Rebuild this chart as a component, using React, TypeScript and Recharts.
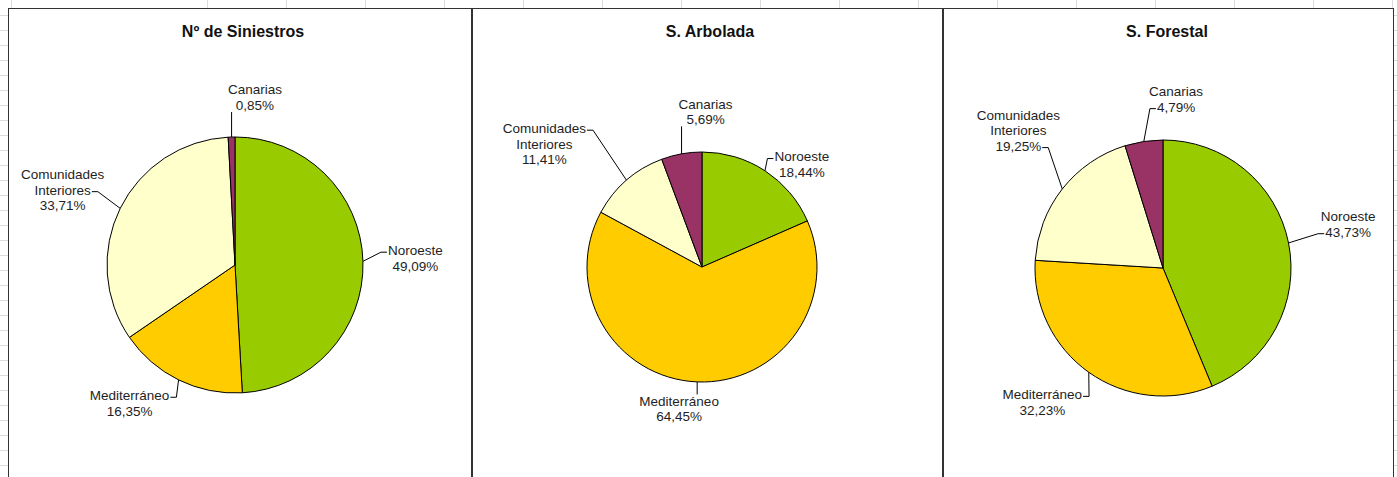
import { PieChart, Pie, Cell } from 'recharts'

const regions = ['Noroeste', 'Mediterráneo', 'Comunidades Interiores', 'Canarias']
const siniestros = [49.09, 16.35, 33.71, 0.85]
const arbolada = [18.44, 64.45, 11.41, 5.69]
const forestal = [43.73, 32.23, 19.25, 4.79]
const titles = ['Nº de Siniestros', 'S. Arbolada', 'S. Forestal']

const COLORS = ['#99CC00', '#FFCC00', '#FFFFCC', '#993366']
const FONT = "'Liberation Sans', Arial, sans-serif"
const LABEL_SIZE = 13.5
const LINE_H = 15.5
const GAP = 18

// layout of each panel; nudges = [dx, dy, line the leader hooks onto]
const panels = [
  { title: titles[0], values: siniestros, left: 8, width: 464, cx: 227, cy: 257, r: 128, titleX: 235,
    nudges: [[7, -2, 0], [-23.5, -6.5, 0], [-4, 0, 1], [24.6, -6, 1]] },
  { title: titles[1], values: arbolada, left: 472, width: 471, cx: 230, cy: 259, r: 115, titleX: 238,
    nudges: [[12, 22, 0], [-15.6, -6.4, 0], [-43, -5, 0], [32, -9, 1]] },
  { title: titles[2], values: forestal, left: 943, width: 451, cx: 220, cy: 260, r: 128, titleX: 224,
    nudges: [[15, -12, 1], [-13, 3, 0], [3, -33, 2], [39, -9, 1]] },
]

let ctx: CanvasRenderingContext2D | null = null
function textW(s: string) {
  if (!ctx) ctx = document.createElement('canvas').getContext('2d')
  if (!ctx) return s.length * 7.3
  ctx.font = `${LABEL_SIZE}px ${FONT}`
  return ctx.measureText(s).width
}

const fmt = (v: number) => v.toFixed(2).replace('.', ',') + '%'

function makeLabel(nudges: number[][]) {
  return (props: any) => {
    const { cx, cy, midAngle, outerRadius, index, name, value } = props
    const RAD = Math.PI / 180
    const ux = Math.cos(-midAngle * RAD)
    const uy = Math.sin(-midAngle * RAD)
    const px = cx + outerRadius * ux
    const py = cy + outerRadius * uy
    const lines = [...String(name).split(' '), fmt(value)]
    const widths = lines.map(textW)
    const halfW = Math.max(...widths) / 2
    const halfH = (lines.length * LINE_H) / 2
    const [dx, dy, hook] = nudges[index]
    const tx = px + ux * GAP + ux * halfW + dx
    const ty = py + uy * GAP + uy * halfH + dy
    const top = ty - halfH

    let pts: number[][]
    if (px >= tx - halfW && px <= tx + halfW) {
      const qy = uy > 0 ? top + 1 : top + lines.length * LINE_H - 1
      pts = [[px, py], [px, qy]]
    } else {
      const ly = top + (hook + 0.6) * LINE_H
      const side = tx > px ? -1 : 1
      const qx = tx + side * (widths[hook] / 2 + 1)
      pts = [[px, py], [qx + side * 6, ly], [qx, ly]]
    }

    return (
      <g key={`lbl-${index}`}>
        <polyline points={pts.map(p => p.join(',')).join(' ')} fill="none" stroke="#000" strokeWidth={1} />
        <text x={tx} textAnchor="middle" fontFamily={FONT} fontSize={LABEL_SIZE} fill="#1e1e24">
          {lines.map((l, i) => (
            <tspan key={i} x={tx} y={top + (i + 0.5) * LINE_H} dominantBaseline="central">{l}</tspan>
          ))}
        </text>
      </g>
    )
  }
}

const gridCols = Array.from({ length: 16 }, (_, i) => 207 + i * 79)
const gridRows = Array.from({ length: 31 }, (_, i) => 15 + i * 15)

export default function App() {
  return (
    <div style={{ position: 'absolute', left: 0, top: 0, width: 1397, height: 477, background: '#fff', overflow: 'hidden' }}>
      {/* spreadsheet grid peeking out around the charts */}
      {[11, ...gridCols].map(x => (
        <div key={'c' + x} style={{ position: 'absolute', left: x, top: 0, width: 1, height: 8, background: '#dcdcdc' }} />
      ))}
      {gridRows.map(y => (
        <div key={'r' + y} style={{ position: 'absolute', left: 0, top: y, width: 8, height: 1, background: '#dcdcdc' }} />
      ))}
      {gridRows.map(y => (
        <div key={'rr' + y} style={{ position: 'absolute', left: 1394, top: y, width: 3, height: 1, background: '#dcdcdc' }} />
      ))}

      {panels.map(p => {
        const data = regions.map((name, i) => ({ name, value: p.values[i] }))
        return (
          <div
            key={p.title}
            style={{
              position: 'absolute', left: p.left, top: 8, width: p.width, height: 480,
              boxSizing: 'border-box', border: '1px solid #333', background: '#fff',
            }}
          >
            <div style={{
              position: 'absolute', left: p.titleX - 1 - 150, top: 14, width: 300, textAlign: 'center',
              fontFamily: FONT, fontWeight: 'bold', fontSize: 16, color: '#111',
            }}>
              {p.title}
            </div>
            <div style={{ position: 'absolute', left: -1, top: -1 }}>
              <PieChart width={p.width} height={470} margin={{ top: 0, right: 0, bottom: 0, left: 0 }}>
                <Pie
                  data={data}
                  dataKey="value"
                  nameKey="name"
                  cx={p.cx}
                  cy={p.cy}
                  outerRadius={p.r}
                  startAngle={90}
                  endAngle={-270}
                  stroke="#000"
                  strokeWidth={1}
                  labelLine={false}
                  label={makeLabel(p.nudges)}
                  isAnimationActive={false}
                >
                  {data.map((d, i) => (
                    <Cell key={d.name} fill={COLORS[i]} />
                  ))}
                </Pie>
              </PieChart>
            </div>
          </div>
        )
      })}
    </div>
  )
}
